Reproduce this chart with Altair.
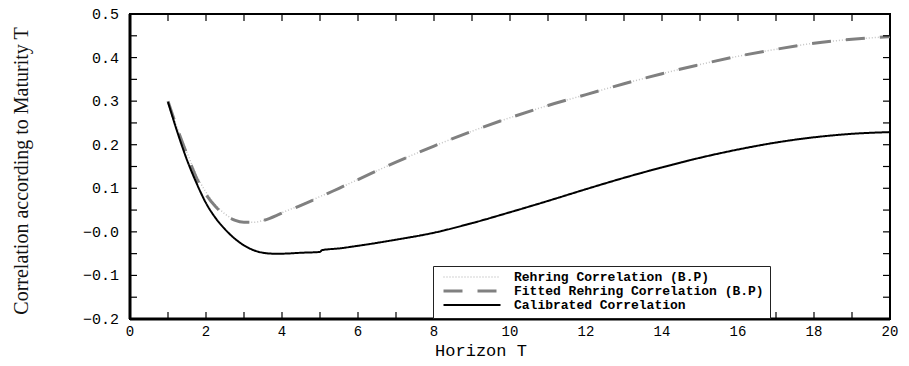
import altair as alt
import pandas as pd

# ---------------- data ----------------
x_rehring = [1.0, 1.25, 1.5, 1.75, 2.0, 2.25, 2.5, 2.75, 3.0, 3.25, 3.5, 4.0, 4.5, 5.0, 5.5, 6.0,
             7.0, 8.0, 9.0, 10.0, 11.0, 12.0, 13.0, 14.0, 15.0, 16.0, 17.0, 18.0, 19.0, 20.0]
y_rehring = [0.300, 0.238, 0.182, 0.130, 0.091, 0.062, 0.041, 0.028, 0.023, 0.022, 0.026, 0.044,
             0.062, 0.081, 0.100, 0.120, 0.160, 0.197, 0.231, 0.262, 0.290, 0.315, 0.340, 0.363,
             0.384, 0.403, 0.419, 0.433, 0.442, 0.448]

x_fitted = [1.0, 1.25, 1.5, 1.75, 2.0, 2.25, 2.5, 2.75, 3.0, 3.25, 3.5, 4.0, 4.5, 5.0, 5.5, 6.0,
            7.0, 8.0, 9.0, 10.0, 11.0, 12.0, 13.0, 14.0, 15.0, 16.0, 17.0, 18.0, 19.0, 20.0]
y_fitted = [0.300, 0.236, 0.178, 0.124, 0.086, 0.058, 0.039, 0.027, 0.022, 0.022, 0.026, 0.043,
            0.061, 0.080, 0.100, 0.120, 0.160, 0.197, 0.231, 0.262, 0.290, 0.315, 0.340, 0.363,
            0.384, 0.403, 0.419, 0.433, 0.442, 0.448]

x_calib = [1.0, 1.25, 1.5, 1.75, 2.0, 2.25, 2.5, 2.75, 3.0, 3.25, 3.5, 3.75, 4.0, 4.5, 5.0, 5.05,
           5.5, 6.0, 7.0, 8.0, 9.0, 10.0, 11.0, 12.0, 13.0, 14.0, 15.0, 16.0, 17.0, 18.0, 19.0, 20.0]
y_calib = [0.298, 0.228, 0.165, 0.112, 0.066, 0.032, 0.006, -0.015, -0.031, -0.042, -0.048, -0.050,
           -0.050, -0.048, -0.046, -0.042, -0.038, -0.032, -0.018, -0.002, 0.020, 0.045, 0.071,
           0.098, 0.124, 0.148, 0.170, 0.189, 0.205, 0.217, 0.225, 0.229]

series_names = ["Rehring Correlation (B.P)",
                "Fitted Rehring Correlation (B.P)",
                "\u00a0Calibrated Correlation"]
series_colors = ["#c4c4c4", "#808080", "#000000"]
series_dashes = [[1, 2], [19, 15], [1, 0]]
series_widths = [1.5, 3.0, 2.0]

x_label_values = [0, 2, 4, 6, 8, 10, 12, 14, 16, 18, 20]
x_label_texts = ["0", "2", "4", "6", "8", "10", "12", "14", "16", "18", "20"]
x_tick_values = [0, 1, 2, 3, 4, 5, 6, 7, 8, 9, 10, 11, 12, 13, 14, 15, 16, 17, 18, 19, 20]
y_label_values = [-0.2, -0.1, 0.0, 0.1, 0.2, 0.3, 0.4, 0.5]
y_label_texts = ["\u22120.2", "\u22120.1", "\u22120.0", "0.1", "0.2", "0.3", "0.4", "0.5"]
y_tick_values = [-0.2, -0.15, -0.1, -0.05, 0.0, 0.05, 0.1, 0.15, 0.2, 0.25, 0.3, 0.35, 0.4, 0.45, 0.5]

x_title = "Horizon T"
y_title = "Correlation according to Maturity T"

# ---------------- layout ----------------
W, H = 760, 305
TL = 7  # inward tick length in pixels
x_min, x_max = 0, 20
y_min, y_max = -0.2, 0.5
tlx = TL * (x_max - x_min) / W   # tick length expressed along x
tly = TL * (y_max - y_min) / H   # tick length expressed along y

# ---------------- tables ----------------
rows = []
for name, xs, ys in zip(series_names, [x_rehring, x_fitted, x_calib], [y_rehring, y_fitted, y_calib]):
    for i, (xv, yv) in enumerate(zip(xs, ys)):
        rows.append({"x": xv, "y": yv, "series": name, "i": i})
df = pd.DataFrame(rows)

vt_rows = []  # vertical tick segments (bottom and top edges)
for v in x_tick_values:
    vt_rows.append({"x": v, "y": y_min, "y2": y_min + tly})
    vt_rows.append({"x": v, "y": y_max, "y2": y_max - tly})
ht_rows = []  # horizontal tick segments (left and right edges)
for v in y_tick_values:
    ht_rows.append({"y": v, "x": x_min, "x2": x_min + tlx})
    ht_rows.append({"y": v, "x": x_max, "x2": x_max - tlx})
vt_df = pd.DataFrame(vt_rows)
ht_df = pd.DataFrame(ht_rows)

xlab_df = pd.DataFrame({"x": x_label_values, "y": [y_min] * len(x_label_values), "t": x_label_texts})
ylab_df = pd.DataFrame({"x": [x_min] * len(y_label_values), "y": y_label_values, "t": y_label_texts})
frame_df = pd.DataFrame({"x": [x_min], "x2": [x_max], "y": [y_min], "y2": [y_max]})
xtitle_df = pd.DataFrame({"t": [x_title]})
ytitle_df = pd.DataFrame({"t": [y_title]})

TICK_FONT = "Liberation Mono"

xscale = alt.Scale(domain=[x_min, x_max], nice=False, zero=False)
yscale = alt.Scale(domain=[y_min, y_max], nice=False, zero=False)
X = lambda f="x": alt.X(f"{f}:Q", scale=xscale, axis=None)
Y = lambda f="y": alt.Y(f"{f}:Q", scale=yscale, axis=None)

leg = dict(
    title=None, orient="none", legendX=303, legendY=252,
    symbolType="stroke", symbolSize=3249, clipHeight=10, rowPadding=1,
    symbolOffset=3, labelOffset=12, padding=6,
    strokeColor="#222222", fillColor="white",
    labelFont="Liberation Mono", labelFontWeight="bold", labelFontSize=13,
    labelColor="black", labelLimit=600,
)

lines = alt.Chart(df).mark_line(interpolate="monotone").encode(
    x=X(), y=Y(),
    color=alt.Color("series:N", scale=alt.Scale(domain=series_names, range=series_colors),
                    legend=alt.Legend(**leg)),
    strokeDash=alt.StrokeDash("series:N", scale=alt.Scale(domain=series_names, range=series_dashes),
                              legend=alt.Legend(**leg)),
    strokeWidth=alt.StrokeWidth("series:N", scale=alt.Scale(type="ordinal", domain=series_names, range=series_widths),
                                legend=alt.Legend(**leg)),
    order=alt.Order("i:Q"),
)

v_ticks = alt.Chart(vt_df).mark_rule(color="black", strokeWidth=1.2).encode(
    x=X(), y=Y(), y2="y2:Q")
h_ticks = alt.Chart(ht_df).mark_rule(color="black", strokeWidth=1.2).encode(
    x=X(), x2="x2:Q", y=Y())

# thick left and bottom axis lines
left_line = alt.Chart(frame_df).mark_rule(color="black", strokeWidth=3).encode(
    x=X(), y=Y(), y2="y2:Q")
bottom_line = alt.Chart(frame_df).mark_rule(color="black", strokeWidth=3).encode(
    x=X(), x2="x2:Q", y=Y())

x_labels = alt.Chart(xlab_df).mark_text(
    font=TICK_FONT, fontSize=14, color="black", align="center", baseline="top", dy=6
).encode(x=X(), y=Y(), text="t:N")
y_labels = alt.Chart(ylab_df).mark_text(
    font=TICK_FONT, fontSize=15, color="black", align="right", baseline="middle", dx=-11
).encode(x=X(), y=Y(), text="t:N")

x_title_mark = alt.Chart(xtitle_df).mark_text(
    font="Liberation Mono", fontSize=17, color="black", align="center", baseline="middle"
).encode(x=alt.value(351), y=alt.value(H + 32), text="t:N")
y_title_mark = alt.Chart(ytitle_df).mark_text(
    font="Liberation Serif", fontSize=20, color="#111111", align="center", baseline="middle", angle=270
).encode(x=alt.value(-108), y=alt.value(157), text="t:N")

chart = alt.layer(
    lines, left_line, bottom_line, v_ticks, h_ticks, x_labels, y_labels, x_title_mark, y_title_mark
).properties(
    width=W, height=H,
    autosize=alt.AutoSizeParams(type="none"),
    padding={"left": 130, "top": 14, "right": 19, "bottom": 47},
    background="white",
).configure_view(
    stroke="black", strokeWidth=2
)

chart.save("out.html", embed_options={"renderer": "svg", "actions": False})
